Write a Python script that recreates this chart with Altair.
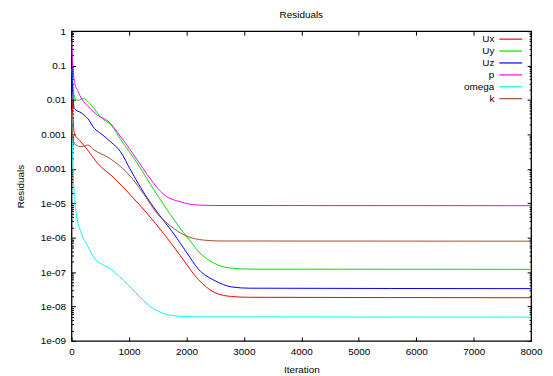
import altair as alt
import pandas as pd

series_names = ["Ux", "Uy", "Uz", "p", "omega", "k"]
series_colors = ["#ff0000", "#00e000", "#0000ff", "#ff00ff", "#00ffff", "#a0522d"]

ux_iter = [0, 20, 50, 138, 282, 455, 743, 1031, 1318, 1606, 1894, 2211, 2499, 2787, 3100, 8000]
ux_val = [0.012, 0.004, 1.05e-3, 6.8e-4, 3.5e-4, 1.45e-4, 5.4e-5, 1.7e-5, 5e-6, 1.3e-6, 3e-7, 6e-8, 2.5e-8, 1.95e-8, 1.85e-8, 1.8e-8]

uy_iter = [0, 29, 58, 116, 203, 290, 407, 513, 698, 858, 1146, 1376, 1606, 1836, 2067, 2240, 2396, 2549, 2787, 3100, 8000]
uy_val = [0.08, 0.024, 0.011, 0.0098, 0.011, 0.0089, 0.0052, 0.0031, 0.0018, 7e-4, 1.45e-4, 3.5e-5, 9e-6, 2.5e-6, 8e-7, 3.5e-7, 2.2e-7, 1.6e-7, 1.3e-7, 1.22e-7, 1.2e-7]

uz_iter = [0, 15, 50, 174, 282, 397, 513, 686, 850, 1031, 1261, 1491, 1779, 2009, 2211, 2499, 2787, 3100, 8000]
uz_val = [0.35, 0.03, 0.0056, 0.0042, 0.0029, 0.0015, 0.00105, 6e-4, 3.2e-4, 9e-5, 2e-5, 5.5e-6, 1.3e-6, 3.6e-7, 1.2e-7, 5.6e-8, 3.7e-8, 3.4e-8, 3.3e-8]

p_iter = [0, 29, 58, 116, 174, 290, 455, 640, 858, 1146, 1376, 1606, 1894, 2182, 2500, 8000]
p_val = [0.5, 0.07, 0.03, 0.0174, 0.011, 0.0065, 0.0036, 0.0024, 8.5e-4, 1.8e-4, 5e-5, 1.8e-5, 1.1e-5, 8.9e-6, 8.6e-6, 8.5e-6]

omega_iter = [0, 20, 40, 81, 167, 282, 407, 523, 669, 814, 988, 1163, 1337, 1512, 1744, 1977, 2300, 8000]
omega_val = [0.005, 3e-4, 3e-5, 5.2e-6, 1.4e-6, 5.7e-7, 2.4e-7, 1.7e-7, 1.26e-7, 8e-8, 4.2e-8, 2.1e-8, 1.1e-8, 7.2e-9, 5.5e-9, 5.1e-9, 5e-9, 4.9e-9]

k_iter = [0, 30, 81, 167, 282, 397, 627, 858, 1031, 1261, 1491, 1721, 2009, 2297, 2600, 8000]
k_val = [0.003, 6.5e-4, 4.9e-4, 4.4e-4, 4.9e-4, 3.5e-4, 2.2e-4, 1.15e-4, 5.9e-5, 1.8e-5, 5e-6, 2.2e-6, 1.1e-6, 8.5e-7, 8e-7, 7.9e-7]

x_ticks = [0, 1000, 2000, 3000, 4000, 5000, 6000, 7000, 8000]
y_major = [1, 0.1, 0.01, 0.001, 0.0001, 1e-5, 1e-6, 1e-7, 1e-8, 1e-9]
y_minor = [m * 10.0 ** e for e in range(-9, 0) for m in range(2, 10)]

rows = []
for name, its, vals in [("Ux", ux_iter, ux_val), ("Uy", uy_iter, uy_val), ("Uz", uz_iter, uz_val),
                        ("p", p_iter, p_val), ("omega", omega_iter, omega_val), ("k", k_iter, k_val)]:
    for i, v in zip(its, vals):
        rows.append({"series": name, "iteration": i, "residual": v})
df = pd.DataFrame(rows)

FONT = "Liberation Sans"
major_test = "abs(log(datum.value)/LN10 - round(log(datum.value)/LN10)) < 0.01"
label_expr = ("(" + major_test + ") ? (datum.value >= 0.0001 ? toString(datum.value) : "
              "'1e-0' + toString(-round(log(datum.value)/LN10))) : ''")

xscale = alt.Scale(domain=[0, 8000], nice=False, zero=False)
yscale = alt.Scale(type="log", domain=[1e-9, 1], nice=False)

common_axis = dict(domain=False, grid=False, tickColor="#000", tickWidth=1,
                   labelFont=FONT, labelFontSize=10, labelColor="#000",
                   titleFont=FONT, titleFontSize=10, titleFontWeight="normal", titleColor="#000",
                   labelFlush=False, labelOverlap=False)

x_axis = alt.Axis(values=x_ticks, title="Iteration", tickSize={"condition": {"test": "true", "value": -4}, "value": -4},
                  labelPadding=10, titlePadding=8, format="d", **common_axis)
y_axis = alt.Axis(values=y_major + y_minor, title="Residuals", labelExpr=label_expr,
                  tickSize={"condition": {"test": major_test, "value": -4}, "value": -2},
                  labelPadding=10, titlePadding=10, **common_axis)

x_axis_top = alt.Axis(values=x_ticks, orient="top", title=None, labels=False,
                      tickSize={"condition": {"test": "true", "value": -4}, "value": -4}, **common_axis)
y_axis_right = alt.Axis(values=y_major + y_minor, orient="right", title=None, labels=False,
                        tickSize={"condition": {"test": major_test, "value": -4}, "value": -2}, **common_axis)

lines = alt.Chart(df).mark_line(strokeWidth=1, clip=True, interpolate="monotone").encode(
    x=alt.X("iteration:Q", scale=xscale, axis=x_axis),
    y=alt.Y("residual:Q", scale=yscale, axis=y_axis),
    color=alt.Color("series:N", scale=alt.Scale(domain=series_names, range=series_colors),
                    sort=series_names,
                    legend=alt.Legend(title=None, orient="none", legendX=436.5, legendY=2,
                                      symbolType="M-2.3,0H2.3", symbolSize=100, symbolStrokeWidth=1.2,
                                      labelAlign="right", labelOffset={"expr": "-22.5"}, labelFont=FONT,
                                      labelFontSize=10, labelColor="#000", rowPadding=1, padding=0)),
    order="iteration:Q",
)

frame = alt.Chart(df).mark_line(opacity=0).encode(
    x=alt.X("iteration:Q", scale=xscale, axis=x_axis_top),
    y=alt.Y("residual:Q", scale=yscale, axis=y_axis_right),
    detail="series:N",
)

chart = alt.layer(lines, frame).resolve_axis(x="independent", y="independent").properties(
    width=463, height=312,
    autosize=alt.AutoSizeParams(type="none"),
    padding={"left": 64, "top": 22, "right": 14, "bottom": 34},
    title=alt.TitleParams("Residuals", font=FONT, fontSize=10, fontWeight="normal", color="#000",
                          anchor="middle", offset=6),
).configure_view(stroke="#000", strokeWidth=1.3)

chart.save("out.html", embed_options={"renderer": "svg", "actions": False})
